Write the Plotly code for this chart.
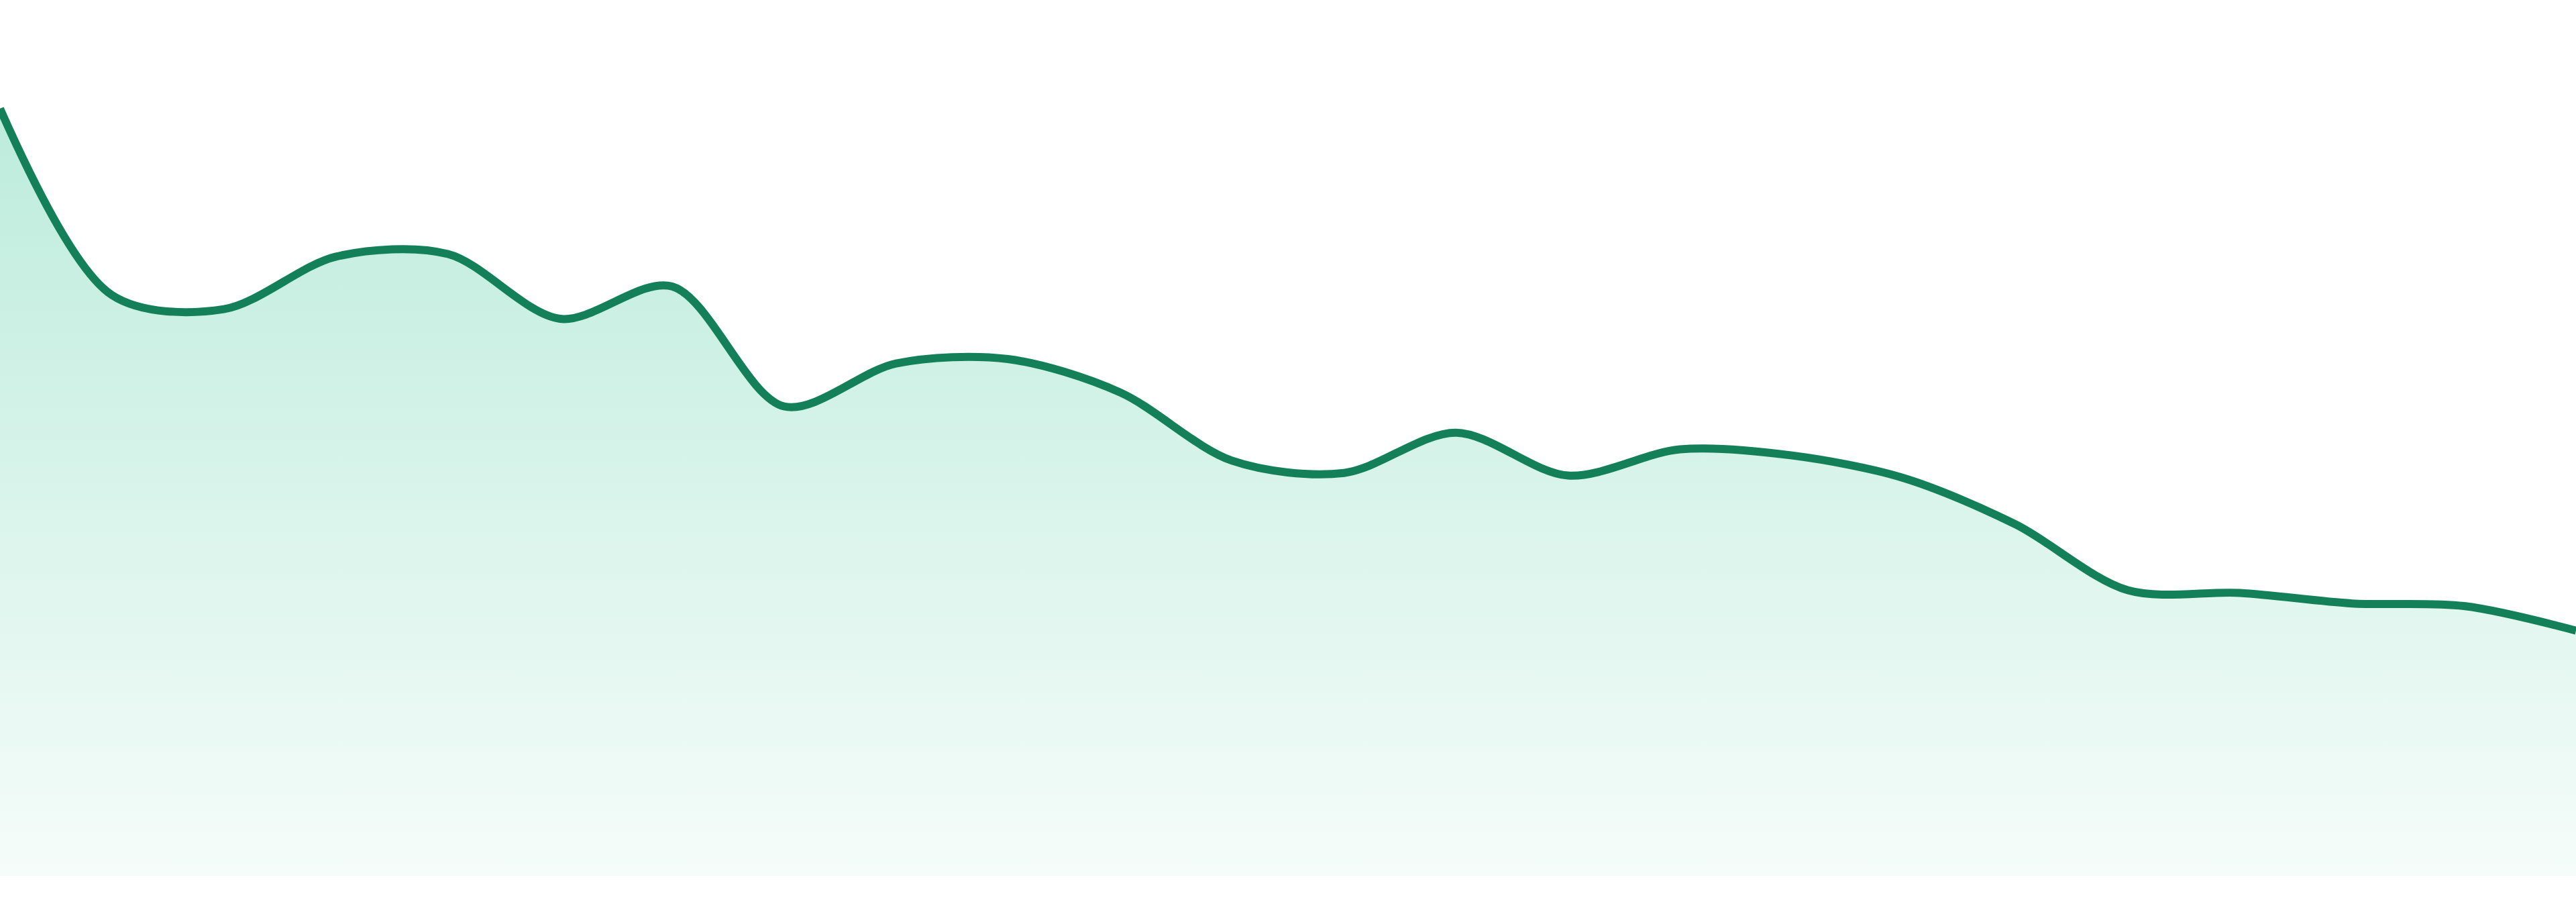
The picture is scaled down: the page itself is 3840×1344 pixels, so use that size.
import plotly.graph_objects as go

# values, one point per step
steps = list(range(24))
values = [87.6, 66.3, 64.7, 70.7, 71.0, 63.6, 67.3, 53.6, 58.5, 59.0, 55.2, 47.4,
          46.0, 50.6, 45.7, 48.7, 48.0, 45.4, 40.1, 32.6, 32.3, 31.1, 30.8, 28.0]

line_color = "#13805a"

fig = go.Figure(
    go.Scatter(
        x=steps,
        y=values,
        mode="lines",
        line={"color": line_color, "width": 12, "shape": "spline", "smoothing": 0.9},
        fill="tozeroy",
        fillgradient={
            "type": "vertical",
            "start": 0,
            "stop": max(values),
            "colorscale": [[0, "rgba(16,185,129,0.04)"], [1, "rgba(16,185,129,0.28)"]],
        },
        hoverinfo="skip",
    )
).update_layout(
    width=3840,
    height=1344,
    margin={"l": 0, "r": 0, "t": 0, "b": 39},
    paper_bgcolor="white",
    plot_bgcolor="white",
    showlegend=False,
    xaxis={"range": [0, 23], "visible": False},
    yaxis={"range": [0, 100], "visible": False},
)

# page margin off so the figure sits flush in the window
fig.write_html("out.html", config={"displayModeBar": False},
               post_script="document.body.style.margin='0';")
